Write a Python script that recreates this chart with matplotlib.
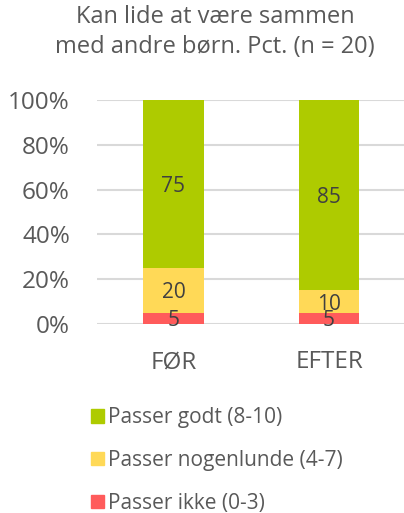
import matplotlib
matplotlib.use("Agg")
import matplotlib.pyplot as plt
from matplotlib.patches import Patch

plt.rcParams['font.family'] = ['Open Sans', 'DejaVu Sans']

categories = ["FØR", "EFTER"]
series_names = ["Passer ikke (0-3)", "Passer nogenlunde (4-7)", "Passer godt (8-10)"]
passer_ikke = [5, 5]
passer_nogenlunde = [20, 10]
passer_godt = [75, 85]
yticks = [0, 20, 40, 60, 80, 100]
ytick_labels = ["0%", "20%", "40%", "60%", "80%", "100%"]
title = "Kan lide at være sammen\nmed andre børn. Pct. (n = 20)"

colors = ["#FF5B5B", "#FFD957", "#AECB00"]
text_color = "#595959"

fig = plt.figure(figsize=(4.04, 5.13), dpi=100)
ax = fig.add_axes([0.240, 0.3684, 0.76, 0.4366])

x = list(range(len(categories)))
width = 0.39
bottom = [0, 0]
data = [passer_ikke, passer_nogenlunde, passer_godt]
for vals, col, name in zip(data, colors, series_names):
    ax.bar(x, vals, width, bottom=bottom, color=col, label=name, zorder=3)
    for xi, v, b in zip(x, vals, bottom):
        ax.text(xi, b + v / 2, str(v), ha='center', va='center_baseline',
                fontsize=15, color="#404040", zorder=4)
    bottom = [b + v for b, v in zip(bottom, vals)]

ax.set_xlim(-0.492, 1.482)
ax.set_ylim(0, 100)
ax.set_yticks(yticks)
ax.set_yticklabels(ytick_labels)
ax.set_xticks(x)
ax.set_xticklabels(categories)
ax.tick_params(axis='y', length=0, pad=19.5, labelsize=17.5, labelcolor=text_color)
ax.tick_params(axis='x', length=0, pad=19, labelsize=17.5, labelcolor=text_color)
ax.grid(axis='y', color="#D9D9D9", linewidth=1.5, zorder=0)
for s in ax.spines.values():
    s.set_visible(False)

fig.text(0.532, 0.99, title, ha='center', va='top', fontsize=17,
         color=text_color, linespacing=1.3)

handles = [Patch(color=c) for c in colors][::-1]
labels = series_names[::-1]
fig.legend(handles, labels, loc='upper left', bbox_to_anchor=(0.18, 0.2425),
           frameon=False, fontsize=15, handlelength=0.6, handleheight=0.6,
           handletextpad=0.2, labelspacing=1.05, labelcolor=text_color)

fig.savefig("out.png", dpi=100)
